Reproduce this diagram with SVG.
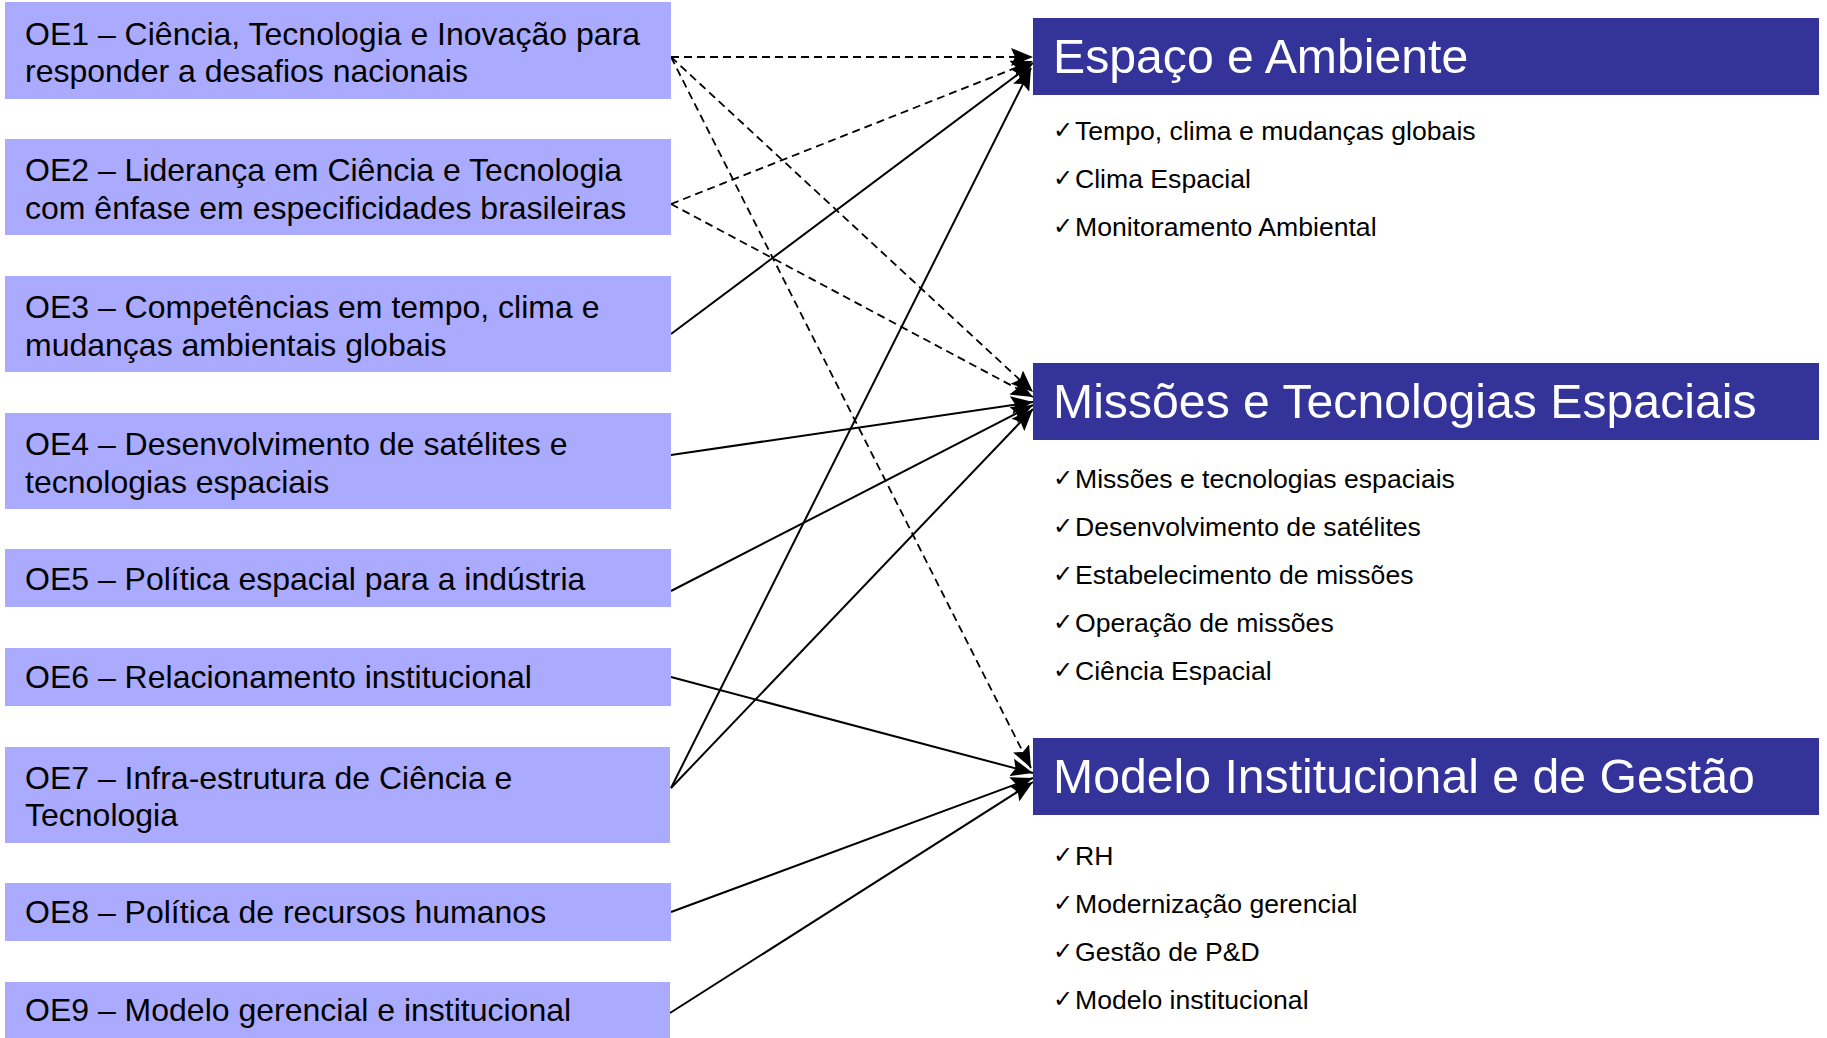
<svg xmlns="http://www.w3.org/2000/svg" width="1827" height="1038" viewBox="0 0 1827 1038">
<style>
.box{fill:#AAAAFF}
.hdr{fill:#333399}
.lt{font-family:"Liberation Sans",Arial,sans-serif;font-size:32px;fill:#000}
.ht{font-family:"Liberation Sans",Arial,sans-serif;font-size:48.2px;fill:#fff}
.bt{font-family:"Liberation Sans",Arial,sans-serif;font-size:26.6px;fill:#000}
.ck{font-family:"Noto Sans","DejaVu Sans",sans-serif;font-size:24px;fill:#000}
.c{fill:none;stroke:#000;stroke-width:2;marker-end:url(#ah)}
.d{stroke-dasharray:8 5;stroke-width:1.8}
</style>
<defs>
<marker id="ah" markerWidth="24" markerHeight="18" refX="22" refY="9" orient="auto" markerUnits="userSpaceOnUse">
<path d="M0,0 L22,9 L0,18 L4,9 z" fill="#000"/>
</marker>
</defs>
<rect width="1827" height="1038" fill="#fff"/>

<g id="connectors">
<path class="c d" d="M671,57 L1033,57"/>
<path class="c d" d="M671,57 L1033,392"/>
<path class="c d" d="M671,57 L1031,768"/>
<path class="c d" d="M671,204 L1033,61"/>
<path class="c d" d="M671,204 L1033,397"/>
<path class="c" d="M671,334 L1033,63"/>
<path class="c" d="M671,788 L1031,68"/>
<path class="c" d="M671,455 L1033,402"/>
<path class="c" d="M671,591 L1033,405"/>
<path class="c" d="M671,788 L1033,409"/>
<path class="c" d="M671,677 L1033,773"/>
<path class="c" d="M671,912 L1033,778"/>
<path class="c" d="M670,1013 L1033,782"/>
</g>

<g id="oe1"><rect class="box" x="5" y="2" width="666" height="97"/>
<text class="lt" x="25" y="44.5">OE1 – Ciência, Tecnologia e Inovação para</text>
<text class="lt" x="25" y="82">responder a desafios nacionais</text></g>
<g id="oe2"><rect class="box" x="5" y="139" width="666" height="96"/>
<text class="lt" x="25" y="181">OE2 – Liderança em Ciência e Tecnologia</text>
<text class="lt" x="25" y="218.5">com ênfase em especificidades brasileiras</text></g>
<g id="oe3"><rect class="box" x="5" y="276" width="666" height="96"/>
<text class="lt" x="25" y="318">OE3 – Competências em tempo, clima e</text>
<text class="lt" x="25" y="355.5">mudanças ambientais globais</text></g>
<g id="oe4"><rect class="box" x="5" y="413" width="666" height="96"/>
<text class="lt" x="25" y="455">OE4 – Desenvolvimento de satélites e</text>
<text class="lt" x="25" y="492.5">tecnologias espaciais</text></g>
<g id="oe5"><rect class="box" x="5" y="549" width="666" height="58"/>
<text class="lt" x="25" y="590">OE5 – Política espacial para a indústria</text></g>
<g id="oe6"><rect class="box" x="5" y="648" width="666" height="58"/>
<text class="lt" x="25" y="688">OE6 – Relacionamento institucional</text></g>
<g id="oe7"><rect class="box" x="5" y="747" width="665" height="96"/>
<text class="lt" x="25" y="789">OE7 – Infra-estrutura de Ciência e</text>
<text class="lt" x="25" y="826">Tecnologia</text></g>
<g id="oe8"><rect class="box" x="5" y="883" width="666" height="58"/>
<text class="lt" x="25" y="923">OE8 – Política de recursos humanos</text></g>
<g id="oe9"><rect class="box" x="5" y="982" width="665" height="60"/>
<text class="lt" x="25" y="1021">OE9 – Modelo gerencial e institucional</text></g>

<g id="espaco"><rect class="hdr" x="1033" y="18" width="786" height="77"/>
<text class="ht" x="1053" y="73">Espaço e Ambiente</text>
<text class="ck" x="1053" y="138">✓</text><text class="bt" x="1075" y="140">Tempo, clima e mudanças globais</text>
<text class="ck" x="1053" y="186">✓</text><text class="bt" x="1075" y="188">Clima Espacial</text>
<text class="ck" x="1053" y="234">✓</text><text class="bt" x="1075" y="236">Monitoramento Ambiental</text></g>

<g id="missoes"><rect class="hdr" x="1033" y="363" width="786" height="77"/>
<text class="ht" x="1053" y="418">Missões e Tecnologias Espaciais</text>
<text class="ck" x="1053" y="486">✓</text><text class="bt" x="1075" y="488">Missões e tecnologias espaciais</text>
<text class="ck" x="1053" y="534">✓</text><text class="bt" x="1075" y="536">Desenvolvimento de satélites</text>
<text class="ck" x="1053" y="582">✓</text><text class="bt" x="1075" y="584">Estabelecimento de missões</text>
<text class="ck" x="1053" y="630">✓</text><text class="bt" x="1075" y="632">Operação de missões</text>
<text class="ck" x="1053" y="678">✓</text><text class="bt" x="1075" y="680">Ciência Espacial</text></g>

<g id="modelo"><rect class="hdr" x="1033" y="738" width="786" height="77"/>
<text class="ht" x="1053" y="793">Modelo Institucional e de Gestão</text>
<text class="ck" x="1053" y="863">✓</text><text class="bt" x="1075" y="865">RH</text>
<text class="ck" x="1053" y="911">✓</text><text class="bt" x="1075" y="913">Modernização gerencial</text>
<text class="ck" x="1053" y="959">✓</text><text class="bt" x="1075" y="961">Gestão de P&amp;D</text>
<text class="ck" x="1053" y="1007">✓</text><text class="bt" x="1075" y="1009">Modelo institucional</text></g>
</svg>
